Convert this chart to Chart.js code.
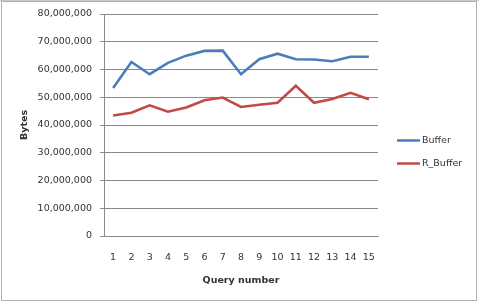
<!DOCTYPE html>
<html><head><meta charset="utf-8">
<script src="https://cdn.jsdelivr.net/npm/chart.js@4/dist/chart.umd.min.js"></script>
<style>html,body{margin:0;padding:0;background:#fff;}#wrap{position:absolute;left:0;top:0;width:479px;height:304px;}</style>
</head><body><div id="wrap"><canvas id="c" width="479" height="304"></canvas></div>
<script>
const categories = ['1','2','3','4','5','6','7','8','9','10','11','12','13','14','15'];
const bufferValues = [53300000,62700000,58300000,62400000,65000000,66700000,66800000,58300000,63700000,65700000,63700000,63600000,63000000,64600000,64600000];
const rBufferValues = [43400000,44400000,47100000,44800000,46300000,48900000,49900000,46500000,47300000,48000000,54100000,48000000,49400000,51600000,49300000];
const seriesNames = ['Buffer','R_Buffer'];
const seriesColors = ['#4a7ebb','#be4b48'];

const FONT = 'DejaVu Sans';

const framePlugin = {
  id:'frame',
  beforeDraw(chart){
    const ctx = chart.ctx;
    ctx.save();
    ctx.strokeStyle = '#b0b0b0';
    ctx.lineWidth = 1;
    ctx.strokeRect(1.5,1.5,475,299);
    ctx.fillStyle = '#c8c8c8';
    ctx.fillRect(0,0,479,1);
    ctx.restore();
  }
};
const legendPlugin = {
  id:'customLegend',
  afterDraw(chart){
    const ctx = chart.ctx;
    ctx.save();
    ctx.font = '9.5px "' + FONT + '"';
    ctx.textBaseline = 'middle';
    chart.data.datasets.forEach((ds,i)=>{
      const y = 140.5 + i*23;
      ctx.strokeStyle = ds.borderColor;
      ctx.lineWidth = 2.5;
      ctx.beginPath(); ctx.moveTo(397,y); ctx.lineTo(420,y); ctx.stroke();
      ctx.fillStyle = '#333';
      ctx.fillText(ds.label, 422, y);
    });
    ctx.restore();
  }
};

new Chart(document.getElementById('c'), {
  type:'line',
  data:{
    labels: categories,
    datasets:[
      {label:seriesNames[0], data:bufferValues, borderColor:seriesColors[0], backgroundColor:seriesColors[0], borderWidth:2.6, pointRadius:0, tension:0},
      {label:seriesNames[1], data:rBufferValues, borderColor:seriesColors[1], backgroundColor:seriesColors[1], borderWidth:2.6, pointRadius:0, tension:0}
    ]
  },
  options:{
    responsive:false, animation:false, devicePixelRatio:1,
    layout:{padding:{left:0,top:14,right:101,bottom:18}},
    plugins:{legend:{display:false}, tooltip:{enabled:false}},
    scales:{
      x:{
        offset:true,
        grid:{display:false},
        border:{display:true,color:'#8a8a8a'},
        ticks:{font:{family:FONT,size:9.5},color:'#333',padding:8,maxRotation:0,autoSkip:false},
        title:{display:true,text:'Query number',font:{family:FONT,size:9.5,weight:'bold'},color:'#333',padding:{top:8,bottom:0}},
        afterFit(s){ s.height = 50; }
      },
      y:{
        min:0,max:80000000,
        ticks:{stepSize:10000000,font:{family:FONT,size:9.5},color:'#333',padding:8,
          callback:(v)=>v.toLocaleString('en-US')},
        grid:{color:'#8a8a8a',lineWidth:1,tickLength:4},
        border:{display:true,color:'#8a8a8a'},
        title:{display:true,text:'Bytes',font:{family:FONT,size:9.5,weight:'bold'},color:'#333',padding:{top:19,bottom:0}},
        afterFit(s){ s.width = 104; }
      }
    }
  },
  plugins:[framePlugin, legendPlugin]
});
</script></body></html>
